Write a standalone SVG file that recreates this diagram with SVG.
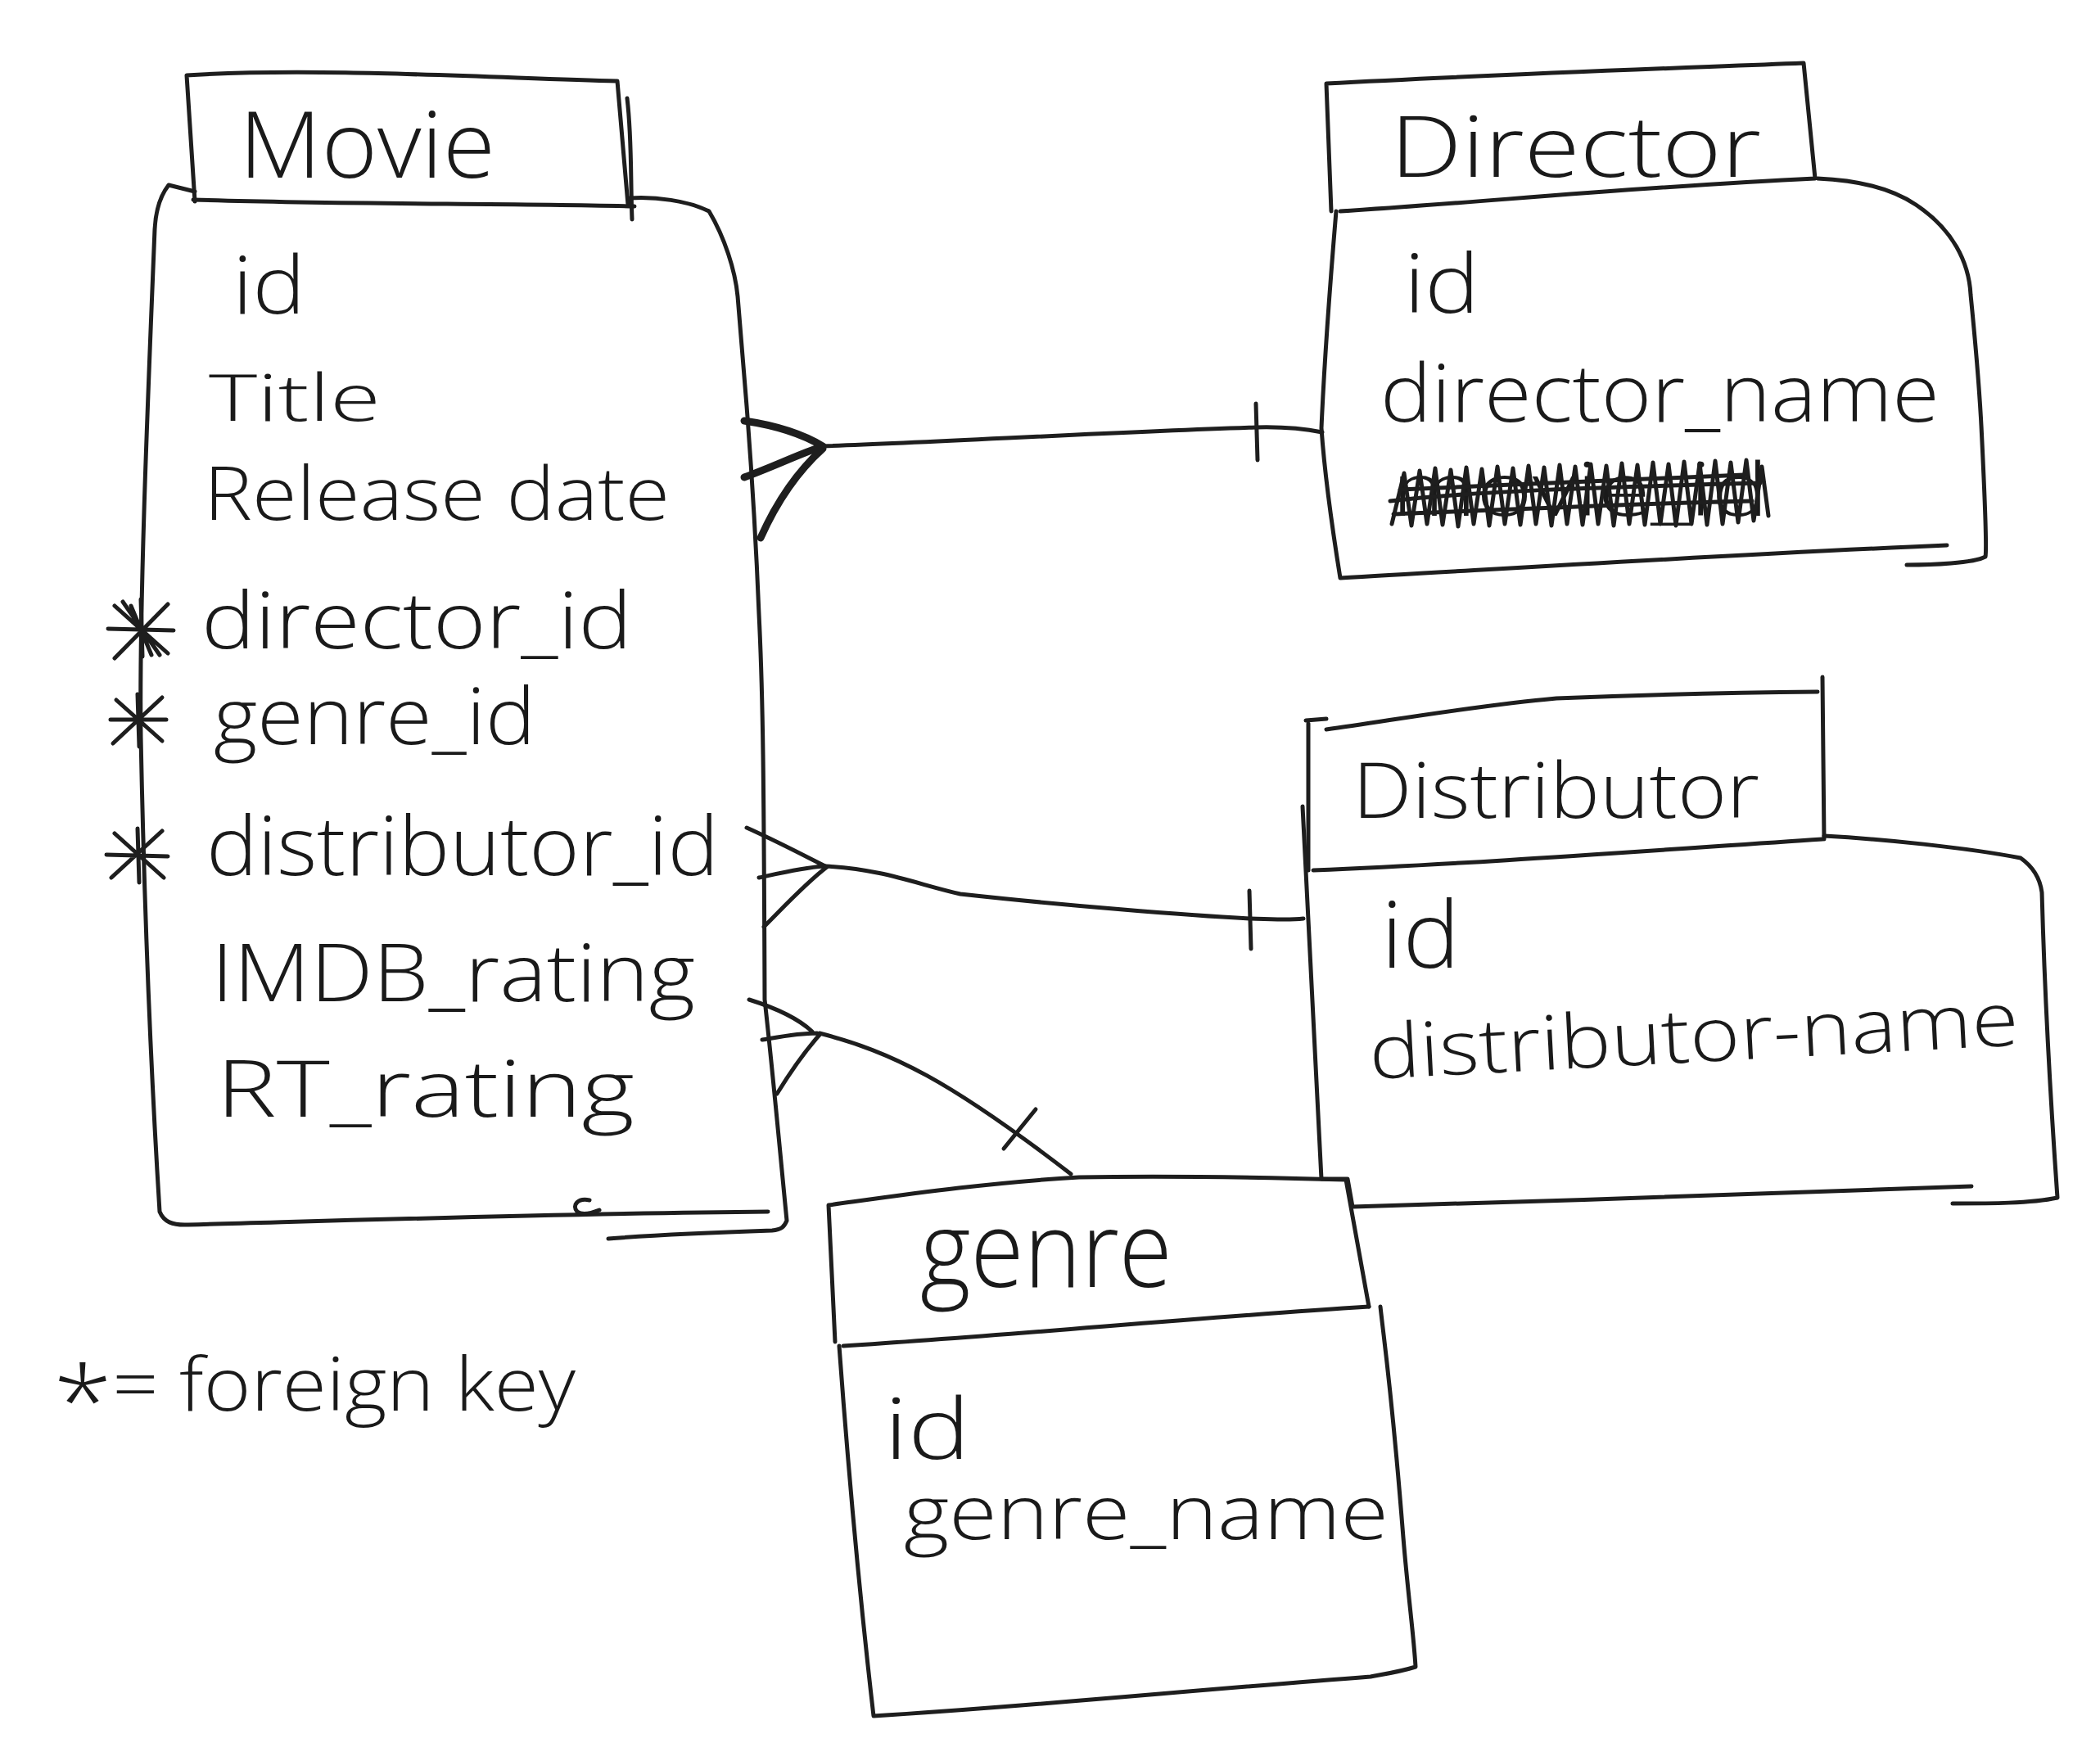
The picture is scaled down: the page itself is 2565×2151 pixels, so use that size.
<svg xmlns="http://www.w3.org/2000/svg" width="2565" height="2151" viewBox="0 0 2565 2151">
<style>
.ln{fill:none;stroke:#1e1e1e;stroke-width:5;stroke-linecap:round;stroke-linejoin:round}
.thk{stroke-width:9}
.t{font-family:"Open Sans","Liberation Sans",sans-serif;font-weight:300;fill:#1a1a1a}
</style>
<rect width="2565" height="2151" fill="#ffffff"/>

<g id="connectors">
  <path class="ln thk" d="M909,514 C950,520 980,530 1005,545 M909,583 C945,570 975,555 1005,545 M929,657 C950,610 975,575 1005,548"/>
  <path class="ln" d="M1005,545 C1150,540 1350,528 1534,522 C1570,521 1595,524 1615,528"/>
  <path class="ln" stroke-width="6" d="M1534,493 L1536,562"/>

  <path class="ln" d="M912,1011 C950,1028 980,1044 1008,1058 M927,1072 C955,1066 980,1060 1006,1058 M933,1132 C960,1105 985,1078 1010,1059"/>
  <path class="ln" d="M1008,1058 C1080,1062 1120,1080 1173,1092 C1300,1106 1450,1118 1527,1122 C1555,1123 1575,1124 1592,1122"/>
  <path class="ln" stroke-width="6" d="M1526,1088 L1528,1159"/>

  <path class="ln" d="M915,1221 C950,1232 975,1244 992,1260 M931,1270 C955,1266 975,1262 998,1262 M949,1336 C965,1310 985,1282 1001,1264"/>
  <path class="ln" d="M1001,1262 C1090,1285 1160,1320 1308,1434"/>
  <path class="ln" stroke-width="7" d="M1265,1355 L1226,1403"/>
</g>

<g id="movie">
  <path class="ln" d="M238,246 L228,92 C380,82 600,95 754,99 L767,250"/>
  <path class="ln" stroke-width="3" d="M766,120 C772,170 770,220 772,268"/>
  <path class="ln" stroke-width="6" d="M236,244 C420,250 600,248 775,252"/>
  <path class="ln" d="M238,234 L206,226 C195,240 190,260 189,280 C180,500 170,740 172,900 C178,1200 190,1400 195,1480 C200,1492 210,1497 230,1496 C450,1490 700,1482 938,1480"/>
  <path class="ln" d="M769,242 C800,240 840,245 866,258 C885,290 898,330 901,362 C906,420 910,470 912,496 C920,600 925,700 927,750 C932,850 933,950 934,1221 C945,1320 952,1400 961,1491 C958,1498 955,1502 943,1503 C850,1506 780,1510 743,1513"/>
  <path class="ln" stroke-width="3" d="M720,1466 C706,1463 698,1472 705,1480 C712,1485 722,1482 732,1478"/>
  <text class="t" x="292" y="217" font-size="112" textLength="313" lengthAdjust="spacingAndGlyphs">Movie</text>
  <text class="t" x="284" y="383" font-size="98" textLength="89" lengthAdjust="spacingAndGlyphs">id</text>
  <text class="t" x="255" y="514" font-size="80" textLength="210" lengthAdjust="spacingAndGlyphs">Title</text>
  <text class="t" x="249" y="635" font-size="91" textLength="569" lengthAdjust="spacingAndGlyphs">Release date</text>
  <text class="t" x="246" y="792" font-size="95" textLength="526" lengthAdjust="spacingAndGlyphs">director_id</text>
  <text class="t" x="261" y="909" font-size="95" textLength="393" lengthAdjust="spacingAndGlyphs">genre_id</text>
  <text class="t" x="252" y="1069" font-size="100" textLength="626" lengthAdjust="spacingAndGlyphs">distributor_id</text>
  <text class="t" x="258" y="1223" font-size="98" textLength="591" lengthAdjust="spacingAndGlyphs">IMDB_rating</text>
  <text class="t" x="264" y="1364" font-size="95" textLength="511" lengthAdjust="spacingAndGlyphs">RT_rating</text>
  <path class="ln" stroke-width="8" d="M140,740 L205,798 M205,738 L140,804 M172,732 L174,802 M132,768 L212,770 M150,735 L195,800 M160,740 L185,800"/>
  <path class="ln" stroke-width="6" d="M142,855 L198,905 M198,852 L138,908 M168,848 L170,912 M135,879 L203,879"/>
  <path class="ln" stroke-width="6" d="M140,1018 L200,1072 M198,1015 L136,1072 M168,1012 L170,1078 M130,1044 L205,1046"/>
</g>

<g id="director">
  <path class="ln" d="M1626,258 L1620,102 C1800,92 2000,85 2203,77 L2217,218 C2000,228 1800,248 1637,258"/>
  <path class="ln" d="M2220,218 C2270,220 2310,230 2340,250 C2385,280 2405,320 2407,360 C2413,420 2418,481 2420,520 C2424,600 2427,670 2425,680 C2410,688 2360,690 2329,690"/>
  <path class="ln" d="M2378,666 C2100,678 1850,694 1637,706 C1628,650 1618,580 1614,523 C1618,430 1626,330 1632,258"/>
  <text class="t" x="1698" y="216" font-size="104" textLength="453" lengthAdjust="spacingAndGlyphs">Director</text>
  <text class="t" x="1715" y="382" font-size="100" textLength="92" lengthAdjust="spacingAndGlyphs">id</text>
  <text class="t" x="1686" y="515" font-size="97" textLength="683" lengthAdjust="spacingAndGlyphs">director_name</text>
  <text class="t" x="1700" y="630" font-size="90" textLength="460" lengthAdjust="spacingAndGlyphs">movie_id</text>
  <path class="ln" stroke-width="13" d="M1700,640 L1715,578 L1724,642 L1734,575 L1743,640 L1753,572 L1762,641 L1772,574 L1781,643 L1791,571 L1800,640 L1810,573 L1819,642 L1829,570 L1838,640 L1848,572 L1857,641 L1867,569 L1876,640 L1886,571 L1895,642 L1905,568 L1914,640 L1924,570 L1933,641 L1943,567 L1952,640 L1962,569 L1971,642 L1981,566 L1990,640 L2000,568 L2009,641 L2019,565 L2028,640 L2038,567 L2047,642 L2057,564 L2066,640 L2076,566 L2085,641 L2095,563 L2104,640 L2114,565 L2123,638 L2133,562 L2142,636 L2152,570 L2160,630"/>
  <path class="ln" stroke-width="10" d="M1698,612 C1800,600 1950,595 2150,590 M1702,628 C1850,622 2000,615 2140,612 M1710,598 C1850,592 2000,585 2130,580"/>
</g>

<g id="distributor">
  <path class="ln" d="M1598,1063 L1598,884 M1595,880 L1620,878 M1620,891 C1700,880 1800,862 1901,853 C2000,849 2100,846 2220,845"/>
  <path class="ln" stroke-width="7" d="M2226,827 L2228,1025"/>
  <path class="ln" d="M1604,1063 C1800,1055 2000,1040 2226,1025"/>
  <path class="ln" d="M2228,1021 C2300,1025 2400,1035 2468,1048 C2485,1060 2492,1075 2494,1090 C2497,1200 2505,1350 2513,1463 C2480,1470 2430,1470 2385,1470"/>
  <path class="ln" d="M2408,1449 C2200,1455 1900,1468 1652,1474 L1646,1440 L1614,1440 C1608,1300 1600,1150 1591,985"/>
  <text class="t" x="1652" y="999" font-size="94" textLength="497" lengthAdjust="spacingAndGlyphs">Distributor</text>
  <text class="t" x="1687" y="1182" font-size="112" textLength="96" lengthAdjust="spacingAndGlyphs">id</text>
  <text class="t" x="1674" y="1318" font-size="92" textLength="794" lengthAdjust="spacingAndGlyphs" transform="rotate(-3 1674 1318)">distributor-name</text>
</g>

<g id="genre">
  <path class="ln" d="M1020,1639 L1012,1472 C1100,1460 1200,1445 1318,1438 C1420,1436 1540,1438 1644,1441 L1672,1596"/>
  <path class="ln" d="M1030,1644 C1250,1630 1450,1610 1672,1596"/>
  <path class="ln" d="M1686,1596 C1692,1650 1700,1700 1714,1878 C1720,1950 1727,2000 1729,2036 C1710,2042 1690,2045 1674,2048 C1450,2065 1250,2085 1067,2096 C1050,1950 1035,1780 1025,1644"/>
  <text class="t" x="1124" y="1572" font-size="129" textLength="308" lengthAdjust="spacingAndGlyphs">genre</text>
  <text class="t" x="1080" y="1782" font-size="104" textLength="105" lengthAdjust="spacingAndGlyphs">id</text>
  <text class="t" x="1104" y="1880" font-size="92" textLength="592" lengthAdjust="spacingAndGlyphs">genre_name</text>
</g>

<g id="legend">
  <text class="t" x="65" y="1723" font-size="90" textLength="638" lengthAdjust="spacingAndGlyphs"><tspan font-size="120" dy="32">*</tspan><tspan dy="-32">= foreign key</tspan></text>
</g>
</svg>
